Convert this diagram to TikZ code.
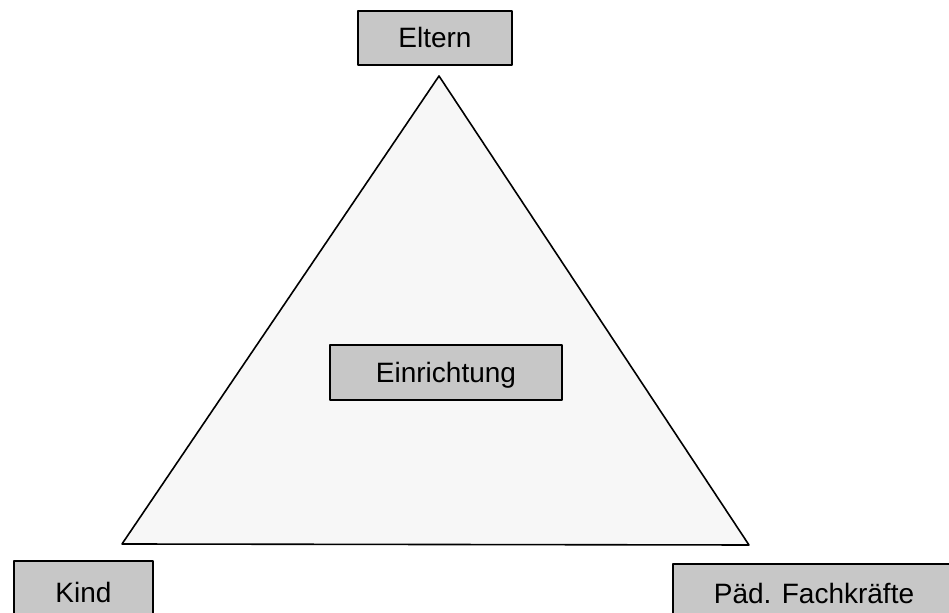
\documentclass[tikz,border=0pt]{standalone}
\usepackage{fontspec}
\setmainfont{Liberation Sans}
\begin{document}
\begin{tikzpicture}[x=0.5pt, y=-0.5pt, font=\fontsize{14}{16}\selectfont, line join=round, line cap=round,
  feld/.style={draw=black, line width=1pt, fill=black!22, inner sep=0pt, anchor=north, text depth=8.5pt}]
            \useasboundingbox (0,0) rectangle (949,613);
            \path
            (439,76) coordinate (E)
            (122,544) coordinate (K)
            (749,545) coordinate (F) ;
            \draw[line width=0.8pt, fill=black!3] (E)--(K)--(F)--cycle;
            \node[feld, minimum width=77pt, text height=18.5pt] (eltern) at (435,10) {Eltern};
            \node[feld, minimum width=116pt, text height=19pt] (einrichtung) at (446,344) {Einrichtung};
            \node[feld, minimum width=69.5pt, text height=21pt, text depth=20pt] (kind) at (83.5,560) {Kind};
            \node[feld, minimum width=141pt, text height=20pt, text depth=20pt] (fachkraefte) at (814,563) {Päd. Fachkräfte};
    \end{tikzpicture}
\end{document}
